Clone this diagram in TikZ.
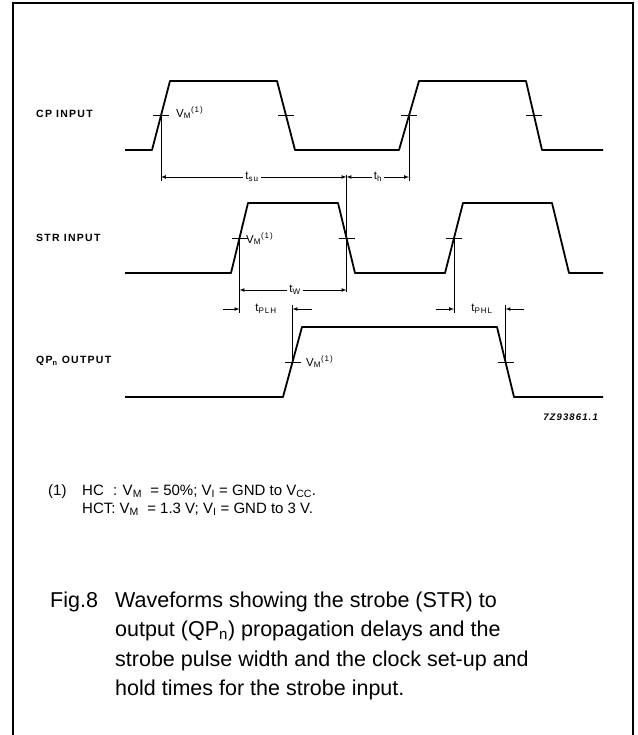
\documentclass[tikz,border=0pt]{standalone}
\usepackage{fontspec}
\setmainfont{Liberation Sans}
\newfontfamily\wavefont[LetterSpace=12]{Liberation Sans}
\usepackage{tikz}

\begin{document}
\begin{tikzpicture}[x=1pt,y=-1pt,
  wave/.style={line width=1.8pt,line join=round},
  vmtick/.style={line width=0.9pt},
  dim/.style={line width=0.7pt},
  sig/.style={anchor=west,inner sep=0pt,font=\wavefont\fontsize{10.5}{12}\selectfont\bfseries},
  vm/.style={anchor=west,inner sep=1pt,font=\wavefont\fontsize{11.5}{12}\selectfont},
  tlbl/.style={inner sep=2pt,font=\wavefont\fontsize{11.5}{12}\selectfont}]
\useasboundingbox (0,0) rectangle (637,735);
\draw[line width=1.2pt] (13,740)--(13,3)--(633,3)--(633,740);

% signal names
\node[sig] (cp) at (36,114) {CP INPUT};
\node[sig] (str) at (36,238) {STR INPUT};
\node[sig] (qp) at (36,361) {QP\textsubscript{n} OUTPUT};

% waveforms
\draw[wave] (125,150)--(152,150)--(170,81)--(277,81)--(295,150)--(399,150)--(419,81)--(526,81)--(542,150)--(603,150);
\draw[wave] (125,273)--(231,273)--(248,203)--(338,203)--(355,273)--(445,273)--(463,203)--(552,203)--(569,273)--(603,273);
\draw[wave] (125,397)--(283,397)--(302,327)--(497,327)--(514,397)--(603,397);

% V_M crossings
\coordinate (cpA) at (161,115.5);
\coordinate (cpB) at (286,115.5);
\coordinate (cpC) at (409,115.5);
\coordinate (cpD) at (534,115.5);
\coordinate (stA) at (239.5,238);
\coordinate (stB) at (346.5,238);
\coordinate (stC) at (454,238);
\coordinate (qpA) at (292.5,362);
\coordinate (qpB) at (505.5,362);
\foreach \c in {cpA,cpB,cpC,cpD,stA,stB,stC,qpA,qpB}
  \draw[vmtick] ([xshift=-8pt]\c)--([xshift=8pt]\c);

\node[vm] (vmcp) at (175,113) {V\textsubscript{M}\textsuperscript{(1)}};
\node[vm] (vmstr) at (245,239) {V\textsubscript{M}\textsuperscript{(1)}};
\node[vm] (vmqp) at (305,362) {V\textsubscript{M}\textsuperscript{(1)}};

% set-up and hold
\draw[dim] (cpA)--++(0,66);
\draw[dim] (cpC)--++(0,66);
\draw[dim] (stB)++(0,-63)--++(0,117);
\node[tlbl] (tsu) at (252,177) {t\textsubscript{su}};
\draw[dim,-latex] (tsu)--(cpA |- tsu);
\draw[dim,-latex] (tsu)--(stB |- tsu);
\node[tlbl] (th) at (378,177) {t\textsubscript{h}};
\draw[dim,-latex] (th)--(stB |- th);
\draw[dim,-latex] (th)--(cpC |- th);

% pulse width
\draw[dim] (stA)--++(0,75);
\node[tlbl] (tw) at (295,290) {t\textsubscript{W}};
\draw[dim,-latex] (tw)--(stA |- tw);
\draw[dim,-latex] (tw)--(stB |- tw);

% propagation delays
\draw[dim] (qpA)--++(0,-57);
\node[tlbl] (tplh) at (266,309) {t\textsubscript{PLH}};
\draw[dim,latex-] (stA |- tplh)--++(-17,0);
\draw[dim,latex-] (qpA |- tplh)--++(19,0);
\draw[dim] (stC)--++(0,75);
\draw[dim] (qpB)--++(0,-57);
\node[tlbl] (tphl) at (482,309) {t\textsubscript{PHL}};
\draw[dim,latex-] (stC |- tphl)--++(-18,0);
\draw[dim,latex-] (qpB |- tphl)--++(18,0);

\node[anchor=east,inner sep=0pt,font=\wavefont\fontsize{9.5}{10}\selectfont\bfseries\itshape] (code) at (598,417) {7Z93861.1};

% notes
\node[anchor=base west,inner sep=0pt,font=\fontsize{15}{18}\selectfont] (fn) at (48,495) {(1)};
\node[anchor=base west,align=left,inner sep=0pt,font=\fontsize{15}{18}\selectfont] (notes) at (82,513)
  {\rlap{HC}\phantom{HCT}: V\textsubscript{M}~ = 50\%; V\textsubscript{I} = GND to V\textsubscript{CC}.\\
   HCT: V\textsubscript{M}~ = 1.3 V; V\textsubscript{I} = GND to 3 V.};

% caption
\node[anchor=base west,inner sep=0pt,font=\fontsize{21.5}{29.5}\selectfont] (fig) at (50,607) {Fig.8};
\node[anchor=base west,align=left,inner sep=0pt,font=\fontsize{21.5}{29.5}\selectfont] (caption) at (115,695.5)
  {Waveforms showing the strobe (STR) to\\
   output (QP\textsubscript{n}) propagation delays and the\\
   strobe pulse width and the clock set-up and\\
   hold times for the strobe input.};
\end{tikzpicture}
\end{document}
